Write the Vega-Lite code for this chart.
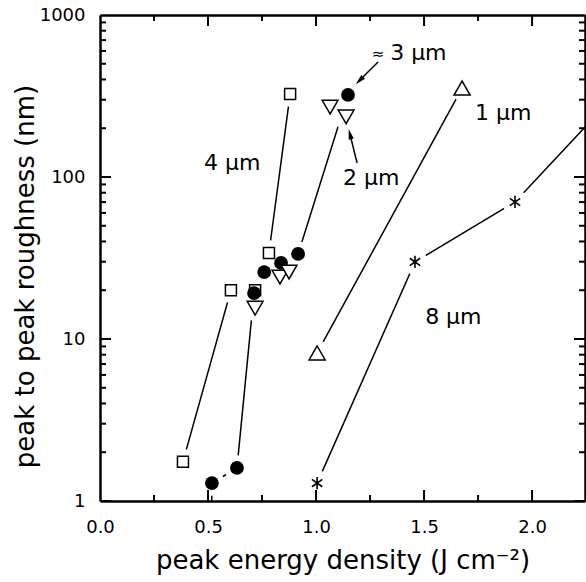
{
  "$schema": "https://vega.github.io/schema/vega-lite/v6.json",
  "width": 485,
  "height": 486,
  "autosize": "none",
  "padding": {"left": 100, "top": 15, "right": 1, "bottom": 81},
  "config": {
    "font": "DejaVu Sans",
    "view": {"stroke": null},
    "axis": {
      "grid": false, "zindex": 1,
      "domainColor": "#000", "labelColor": "#000", "titleColor": "#000",
      "labelFont": "DejaVu Sans", "titleFont": "DejaVu Sans",
      "labelFontSize": 18, "titleFontSize": 26, "titleFontWeight": "normal",
      "domainWidth": 2.5
    }
  },
  "datasets": {
    "pts": [
      {"s": "4 μm", "x": 0.384, "y": 1.75},
      {"s": "4 μm", "x": 0.606, "y": 20},
      {"s": "4 μm", "x": 0.718, "y": 20},
      {"s": "4 μm", "x": 0.782, "y": 34},
      {"s": "4 μm", "x": 0.880, "y": 325},
      {"s": "3 μm", "x": 0.516, "y": 0.5},
      {"s": "3 μm", "x": 0.518, "y": 1.29},
      {"s": "3 μm", "x": 0.634, "y": 1.6},
      {"s": "3 μm", "x": 0.713, "y": 19.2},
      {"s": "3 μm", "x": 0.760, "y": 25.9},
      {"s": "3 μm", "x": 0.838, "y": 29.5},
      {"s": "3 μm", "x": 0.917, "y": 33.5},
      {"s": "3 μm", "x": 1.148, "y": 321},
      {"s": "2 μm", "x": 0.718, "y": 15.5},
      {"s": "2 μm", "x": 0.833, "y": 24.1},
      {"s": "2 μm", "x": 0.875, "y": 25.9},
      {"s": "2 μm", "x": 1.065, "y": 270},
      {"s": "2 μm", "x": 1.139, "y": 235},
      {"s": "1 μm", "x": 1.005, "y": 8.2},
      {"s": "1 μm", "x": 1.676, "y": 354},
      {"s": "8 μm", "x": 1.005, "y": 1.29},
      {"s": "8 μm", "x": 1.458, "y": 29.9},
      {"s": "8 μm", "x": 1.921, "y": 70.1},
      {"s": "8 μm", "x": 2.5, "y": 470}
    ],
    "notes": [
      {"t": "4 μm", "x": 0.481, "y": 122},
      {"t": "3 μm", "x": 1.343, "y": 582},
      {"t": "1 μm", "x": 1.736, "y": 248},
      {"t": "2 μm", "x": 1.125, "y": 98.6},
      {"t": "8 μm", "x": 1.505, "y": 13.7}
    ],
    "approx": [
      {"t": "≈", "x": 1.287, "y": 574}
    ],
    "arrows": [
      {"id": "a", "x": 1.287, "y": 513, "x2": 1.201, "y2": 394},
      {"id": "b", "x": 1.19, "y": 122, "x2": 1.157, "y2": 184}
    ],
    "xticks": [
      {"v": 0}, {"v": 0.25}, {"v": 0.5}, {"v": 0.75}, {"v": 1}, {"v": 1.25}, {"v": 1.5}, {"v": 1.75}, {"v": 2}
    ],
    "yticks": [
      {"v": 1}, {"v": 2}, {"v": 3}, {"v": 4}, {"v": 5}, {"v": 6}, {"v": 7}, {"v": 8}, {"v": 9},
      {"v": 10}, {"v": 20}, {"v": 30}, {"v": 40}, {"v": 50}, {"v": 60}, {"v": 70}, {"v": 80}, {"v": 90},
      {"v": 100}, {"v": 200}, {"v": 300}, {"v": 400}, {"v": 500}, {"v": 600}, {"v": 700}, {"v": 800}, {"v": 900},
      {"v": 1000}
    ]
  },
  "data": {"name": "pts"},
  "resolve": {"scale": {"x": "independent", "y": "independent"}, "axis": {"x": "independent", "y": "independent"}},
  "layer": [
    {
      "transform": [{"filter": "datum.s !== '2 μm'"}],
      "mark": {"type": "line", "color": "black", "strokeWidth": 1.5, "clip": true},
      "encoding": {
        "x": {"field": "x", "type": "quantitative", "scale": {"type": "linear", "domain": [0, 2.245], "nice": false, "zero": false},
          "axis": {"orient": "bottom", "values": [0, 0.5, 1, 1.5, 2], "format": ".1f", "ticks": false, "domain": true,
            "labelPadding": 31, "labelBaseline": "alphabetic", "labelFlush": false,
            "title": "peak energy density (J cm⁻²)", "titleX": 242.5, "titleY": 67, "titleBaseline": "alphabetic", "titleAlign": "center"}},
        "y": {"field": "y", "type": "quantitative", "scale": {"type": "log", "domain": [1, 1000], "nice": false},
          "axis": {"orient": "left", "values": [1, 10, 100, 1000], "format": "d", "ticks": false, "domain": true,
            "labelPadding": 15, "labelBaseline": "middle", "labelFlush": false,
            "title": "peak to peak roughness (nm)", "titleX": -67, "titleY": 261, "titleBaseline": "alphabetic", "titleAngle": -90, "titleAlign": "center"}},
        "detail": {"field": "s"}
      }
    },
    {
      "mark": {"type": "point", "shape": "circle", "filled": true, "color": "white", "opacity": 1, "size": 650, "clip": true},
      "encoding": {
        "x": {"field": "x", "type": "quantitative", "scale": {"type": "linear", "domain": [0, 2.245], "nice": false, "zero": false},
          "axis": {"orient": "top", "labels": false, "ticks": false, "domain": true, "title": null}},
        "y": {"field": "y", "type": "quantitative", "scale": {"type": "log", "domain": [1, 1000], "nice": false},
          "axis": {"orient": "right", "labels": false, "ticks": false, "domain": true, "title": null}}
      }
    },
    {
      "transform": [{"filter": "datum.s === '4 μm'"}],
      "mark": {"type": "point", "shape": "square", "filled": true, "fill": "white", "stroke": "black", "strokeWidth": 1.5, "opacity": 1, "size": 121, "clip": true},
      "encoding": {
        "x": {"field": "x", "type": "quantitative", "scale": {"type": "linear", "domain": [0, 2.245], "nice": false, "zero": false}, "axis": null},
        "y": {"field": "y", "type": "quantitative", "scale": {"type": "log", "domain": [1, 1000], "nice": false}, "axis": null}
      }
    },
    {
      "transform": [{"filter": "datum.s === '3 μm'"}],
      "mark": {"type": "point", "shape": "circle", "filled": true, "color": "black", "opacity": 1, "size": 190, "clip": true},
      "encoding": {
        "x": {"field": "x", "type": "quantitative", "scale": {"type": "linear", "domain": [0, 2.245], "nice": false, "zero": false}, "axis": null},
        "y": {"field": "y", "type": "quantitative", "scale": {"type": "log", "domain": [1, 1000], "nice": false}, "axis": null}
      }
    },
    {
      "transform": [{"filter": "datum.s === '2 μm'"}],
      "mark": {"type": "point", "shape": "triangle-down", "filled": true, "fill": "white", "stroke": "black", "strokeWidth": 1.5, "opacity": 1, "size": 250, "clip": true},
      "encoding": {
        "x": {"field": "x", "type": "quantitative", "scale": {"type": "linear", "domain": [0, 2.245], "nice": false, "zero": false}, "axis": null},
        "y": {"field": "y", "type": "quantitative", "scale": {"type": "log", "domain": [1, 1000], "nice": false}, "axis": null}
      }
    },
    {
      "transform": [{"filter": "datum.s === '1 μm'"}],
      "mark": {"type": "point", "shape": "triangle-up", "filled": true, "fill": "white", "stroke": "black", "strokeWidth": 1.5, "opacity": 1, "size": 260, "clip": true},
      "encoding": {
        "x": {"field": "x", "type": "quantitative", "scale": {"type": "linear", "domain": [0, 2.245], "nice": false, "zero": false}, "axis": null},
        "y": {"field": "y", "type": "quantitative", "scale": {"type": "log", "domain": [1, 1000], "nice": false}, "axis": null}
      }
    },
    {
      "transform": [{"filter": "datum.s === '8 μm'"}],
      "mark": {"type": "point", "shape": "M0,-1L0,1M-0.85,-0.6L0.85,0.6M-0.85,0.6L0.85,-0.6", "filled": false, "stroke": "black", "strokeWidth": 1.6, "opacity": 1, "size": 150, "clip": true},
      "encoding": {
        "x": {"field": "x", "type": "quantitative", "scale": {"type": "linear", "domain": [0, 2.245], "nice": false, "zero": false}, "axis": null},
        "y": {"field": "y", "type": "quantitative", "scale": {"type": "log", "domain": [1, 1000], "nice": false}, "axis": null}
      }
    },
    {
      "data": {"name": "notes"},
      "mark": {"type": "text", "align": "left", "baseline": "middle", "font": "DejaVu Sans", "fontSize": 22, "color": "black"},
      "encoding": {
        "x": {"field": "x", "type": "quantitative", "scale": {"type": "linear", "domain": [0, 2.245], "nice": false, "zero": false}, "axis": null},
        "y": {"field": "y", "type": "quantitative", "scale": {"type": "log", "domain": [1, 1000], "nice": false}, "axis": null},
        "text": {"field": "t"}
      }
    },
    {
      "data": {"name": "approx"},
      "mark": {"type": "text", "align": "center", "baseline": "middle", "font": "DejaVu Sans", "fontSize": 15, "color": "black"},
      "encoding": {
        "x": {"field": "x", "type": "quantitative", "scale": {"type": "linear", "domain": [0, 2.245], "nice": false, "zero": false}, "axis": null},
        "y": {"field": "y", "type": "quantitative", "scale": {"type": "log", "domain": [1, 1000], "nice": false}, "axis": null},
        "text": {"field": "t"}
      }
    },
    {
      "data": {"name": "arrows"},
      "mark": {"type": "rule", "color": "black", "strokeWidth": 1.5},
      "encoding": {
        "x": {"field": "x", "type": "quantitative", "scale": {"type": "linear", "domain": [0, 2.245], "nice": false, "zero": false}, "axis": null},
        "y": {"field": "y", "type": "quantitative", "scale": {"type": "log", "domain": [1, 1000], "nice": false}, "axis": null},
        "x2": {"field": "x2"},
        "y2": {"field": "y2"}
      }
    },
    {
      "data": {"name": "arrows"},
      "transform": [{"filter": "datum.id === 'a'"}],
      "mark": {"type": "point", "shape": "M0,-1L0.5,1L-0.5,1Z", "filled": true, "color": "black", "opacity": 1, "size": 110, "angle": 225},
      "encoding": {
        "x": {"field": "x2", "type": "quantitative", "scale": {"type": "linear", "domain": [0, 2.245], "nice": false, "zero": false}, "axis": null},
        "y": {"field": "y2", "type": "quantitative", "scale": {"type": "log", "domain": [1, 1000], "nice": false}, "axis": null}
      }
    },
    {
      "data": {"name": "arrows"},
      "transform": [{"filter": "datum.id === 'b'"}],
      "mark": {"type": "point", "shape": "M0,-1L0.5,1L-0.5,1Z", "filled": true, "color": "black", "opacity": 1, "size": 110, "angle": 346},
      "encoding": {
        "x": {"field": "x2", "type": "quantitative", "scale": {"type": "linear", "domain": [0, 2.245], "nice": false, "zero": false}, "axis": null},
        "y": {"field": "y2", "type": "quantitative", "scale": {"type": "log", "domain": [1, 1000], "nice": false}, "axis": null}
      }
    },
    {
      "data": {"name": "xticks"},
      "mark": {"type": "tick", "orient": "vertical", "color": "black", "thickness": 2, "opacity": 1, "clip": true},
      "encoding": {
        "x": {"field": "v", "type": "quantitative", "scale": {"type": "linear", "domain": [0, 2.245], "nice": false, "zero": false}, "axis": null},
        "y": {"datum": 1, "type": "quantitative", "scale": {"type": "log", "domain": [1, 1000], "nice": false}, "axis": null},
        "size": {"condition": {"test": "datum.v % 0.5 === 0", "value": 22}, "value": 12}
      }
    },
    {
      "data": {"name": "xticks"},
      "mark": {"type": "tick", "orient": "vertical", "color": "black", "thickness": 2, "opacity": 1, "clip": true},
      "encoding": {
        "x": {"field": "v", "type": "quantitative", "scale": {"type": "linear", "domain": [0, 2.245], "nice": false, "zero": false}, "axis": null},
        "y": {"datum": 1000, "type": "quantitative", "scale": {"type": "log", "domain": [1, 1000], "nice": false}, "axis": null},
        "size": {"condition": {"test": "datum.v % 0.5 === 0", "value": 22}, "value": 12}
      }
    },
    {
      "data": {"name": "yticks"},
      "mark": {"type": "tick", "orient": "horizontal", "color": "black", "thickness": 2, "opacity": 1, "clip": true},
      "encoding": {
        "x": {"datum": 0, "type": "quantitative", "scale": {"type": "linear", "domain": [0, 2.245], "nice": false, "zero": false}, "axis": null},
        "y": {"field": "v", "type": "quantitative", "scale": {"type": "log", "domain": [1, 1000], "nice": false}, "axis": null},
        "size": {"condition": {"test": "indexof([1, 10, 100, 1000], datum.v) >= 0", "value": 22}, "value": 12}
      }
    },
    {
      "data": {"name": "yticks"},
      "mark": {"type": "tick", "orient": "horizontal", "color": "black", "thickness": 2, "opacity": 1, "clip": true},
      "encoding": {
        "x": {"datum": 2.245, "type": "quantitative", "scale": {"type": "linear", "domain": [0, 2.245], "nice": false, "zero": false}, "axis": null},
        "y": {"field": "v", "type": "quantitative", "scale": {"type": "log", "domain": [1, 1000], "nice": false}, "axis": null},
        "size": {"condition": {"test": "indexof([1, 10, 100, 1000], datum.v) >= 0", "value": 22}, "value": 12}
      }
    }
  ]
}
